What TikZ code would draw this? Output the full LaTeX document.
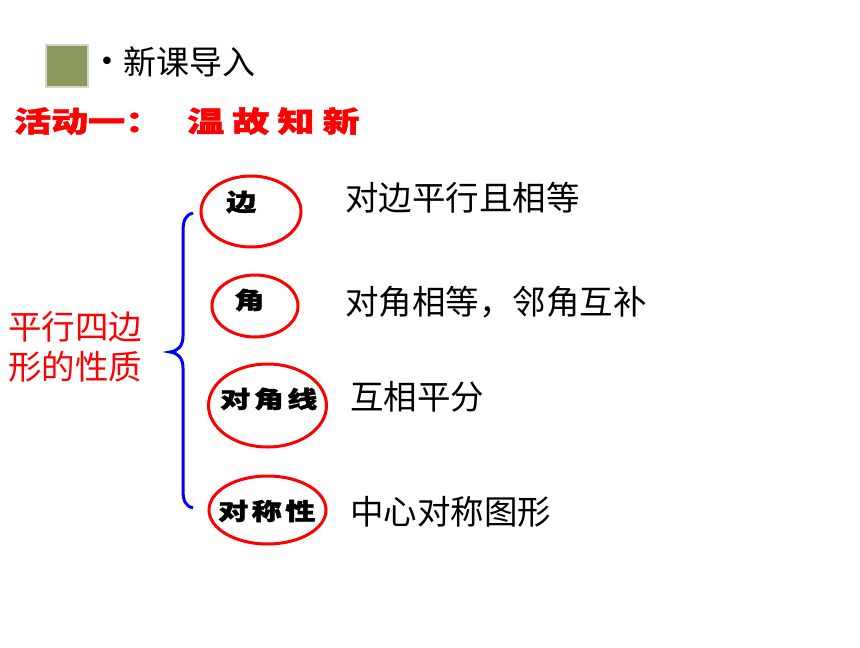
\documentclass[tikz,border=0pt]{standalone}
\usepackage{fontspec}
\usepackage{tikz}
\usetikzlibrary{shapes.geometric}
\newfontfamily\cjk{Noto Sans CJK SC}
\newfontfamily\dejavu{DejaVu Sans}
\definecolor{sqgreen}{RGB}{138,153,94}
\definecolor{sqedge}{RGB}{214,214,200}
\definecolor{braceblue}{RGB}{0,0,255}
\newcommand{\squash}[1]{\scalebox{1}[0.78]{#1}}
\tikzset{
  oval/.style={ellipse,draw=red,line width=3pt,inner sep=0pt},
  tag/.style={anchor=west,inner sep=0pt,font=\cjk\bfseries\fontsize{30}{30}\selectfont\addfontfeature{LetterSpace=12,FakeBold=1.5}},
  fact/.style={anchor=west,inner sep=0pt,font=\cjk\fontsize{33.5}{33.5}\selectfont},
}

\begin{document}
\begin{tikzpicture}[x=1pt,y=-1pt]
        \useasboundingbox[fill=white](0,0)rectangle(860,648);
        % Heading
        \node[draw=sqedge,line width=2pt,fill=sqgreen,minimum size=42pt,inner sep=0pt](box)at(66.5,65.5){};
        \node[inner sep=0pt,font=\dejavu\fontsize{26}{26}\selectfont](dot)at(107,64){•};
        \node[anchor=west,inner sep=0pt,font=\cjk\fontsize{33}{33}\selectfont](head)at(123,62){新课导入};
        \node[anchor=west,inner sep=0pt,text=red,font=\cjk\bfseries\fontsize{37}{37}\selectfont\addfontfeature{FakeBold=1.5}](act)at(14,121){\squash{活动一：}};
        \node[anchor=west,inner sep=0pt,text=red,font=\cjk\bfseries\fontsize{37}{37}\selectfont\addfontfeature{LetterSpace=22,FakeBold=1.5}](old)at(187,121){\squash{温故知新}};
        % Left title
        \node[anchor=west,inner sep=0pt,align=left,text=red,font=\cjk\fontsize{33.5}{40}\selectfont](prop)at(8,347){平行四边\\形的性质};
        % Brace
        \coordinate(btop)at(193,213);
        \coordinate(btip)at(170,352);
        \coordinate(bbot)at(193,508);
        \draw[braceblue,line width=3pt](btop)..controls(185,215)and(183,221)..(183,232)--(183,336)
            ..controls(183,346)and(178,351)..(btip)..controls(178,353)and(183,358)..(183,368)
            --(183,490)..controls(183,500)and(185,506)..(bbot);
        % Ovals
        \node[oval,minimum width=100pt,minimum height=71pt](bian)at(251,211.5){};
        \node[oval,minimum width=86pt,minimum height=62pt](jiao)at(255,306){};
        \node[oval,minimum width=118pt,minimum height=83pt](diag)at(267.5,405.5){};
        \node[oval,minimum width=117pt,minimum height=68pt](sym)at(267.5,510){};
        \node[tag](bianlbl)at(226,202){\squash{边}};
        \node[tag](jiaolbl)at(234,300){\squash{角}};
        \node[tag](diaglbl)at(220,399){\squash{对角线}};
        \node[tag](symlbl)at(218,511){\squash{对称性}};
        % Properties
        \node[fact](f1)at(345,198){对边平行且相等};
        \node[fact](f2)at(345,302){对角相等，邻角互补};
        \node[fact](f3)at(350,397){互相平分};
        \node[fact](f4)at(350,512){中心对称图形};
\end{tikzpicture}
\end{document}
